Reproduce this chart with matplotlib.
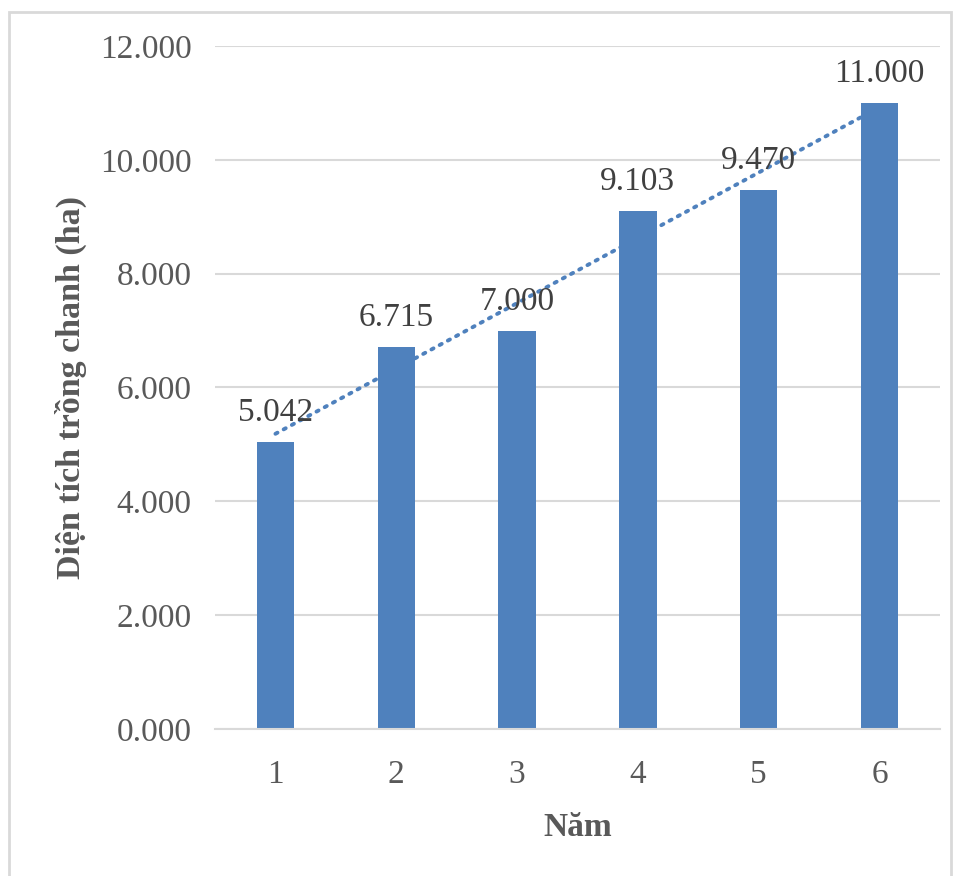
import numpy as np
import matplotlib.pyplot as plt
from matplotlib.patches import Rectangle

# Dữ liệu diện tích trồng chanh theo năm
nam = [1, 2, 3, 4, 5, 6]
dien_tich = [5042, 6715, 7000, 9103, 9470, 11000]
nhan = ['5.042', '6.715', '7.000', '9.103', '9.470', '11.000']
y_ticks = [0, 2000, 4000, 6000, 8000, 10000, 12000]

plt.rcParams['font.family'] = ['Liberation Serif', 'DejaVu Serif']

mau_cot = '#4F81BD'
mau_luoi = '#D9D9D9'

fig = plt.figure(figsize=(9.6, 8.76), dpi=100)
ax = fig.add_axes([0.224, 0.1678, 0.755, 0.7797])

barras = ax.bar(nam, dien_tich, width=0.31, color=mau_cot, zorder=2)

# Nhãn giá trị trên cột
for barra, t in zip(barras, nhan):
    ax.annotate(
        t,
        (barra.get_x() + barra.get_width() / 2, barra.get_height()),
        xytext=(0, 10),
        textcoords='offset points',
        ha='center',
        va='bottom',
        fontsize=24,
        color='#404040',
        zorder=4
    )

# Đường xu hướng tuyến tính
he_so = np.polyfit(nam, dien_tich, 1)
xt = np.array([nam[0], nam[-1]])
ax.plot(
    xt,
    np.polyval(he_so, xt),
    color=mau_cot,
    linewidth=2.8,
    linestyle=(0, (0.6, 1.8)),
    dash_capstyle='round',
    zorder=3
)

ax.set_xlim(0.5, 6.5)
ax.set_ylim(0, 12000)
ax.set_yticks(y_ticks)
ax.set_yticklabels([f'{v / 1000:.3f}' for v in y_ticks])
ax.set_xticks(nam)
ax.set_xticklabels([str(n) for n in nam])

ax.tick_params(axis='both', length=0, labelsize=24, labelcolor='#595959')
ax.tick_params(axis='y', pad=17)
ax.tick_params(axis='x', pad=22)

ax.grid(axis='y', color=mau_luoi, linewidth=1.5, zorder=0)
ax.set_axisbelow(True)
for lado in ['top', 'right', 'left']:
    ax.spines[lado].set_visible(False)
ax.spines['bottom'].set_color(mau_luoi)
ax.spines['bottom'].set_linewidth(1.5)

ax.set_xlabel('Năm', fontsize=24, fontweight='bold', color='#595959', labelpad=16)
ax.set_ylabel('Diện tích trồng chanh (ha)', fontsize=24.5, fontweight='bold',
              color='#595959', labelpad=9)

# Khung viền ngoài
fig.patches.append(Rectangle((9 / 960, -0.05), 942 / 960, 1 - 12 / 876 + 0.05,
                             transform=fig.transFigure, fill=False,
                             edgecolor=mau_luoi, linewidth=2))

fig.savefig('out.png', dpi=100)
